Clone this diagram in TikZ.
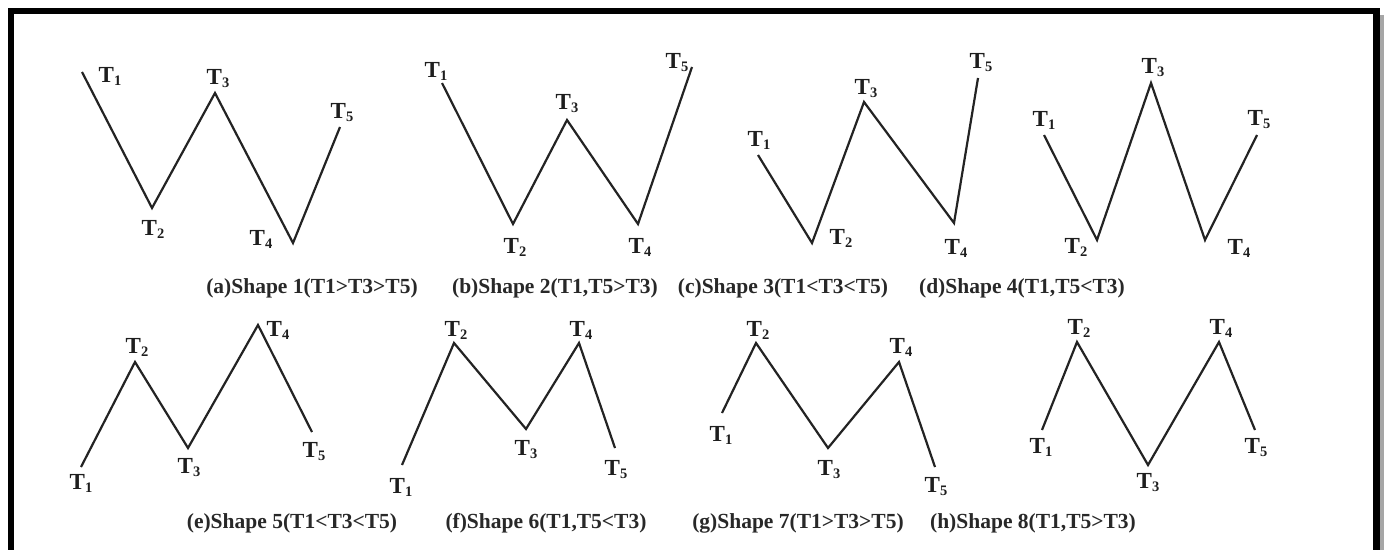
\documentclass[tikz,border=0pt]{standalone}
\usepackage{fontspec}
\setmainfont{Liberation Serif}
\newcommand{\Tsub}[1]{\textbf{T}{\fontsize{14.5}{14.5}\selectfont\raisebox{-0.45ex}{\textbf{#1}}}}
\tikzset{
  wline/.style={line width=2.2pt, draw={rgb,255:red,35;green,35;blue,35}, line join=miter},
  tlab/.style={inner sep=0pt, font=\fontsize{23}{23}\selectfont, text={rgb,255:red,30;green,30;blue,30}},
  capt/.style={inner sep=0pt, font=\fontsize{21.5}{23}\selectfont\bfseries, text={rgb,255:red,40;green,40;blue,40}},
}
\begin{document}
\begin{tikzpicture}[x=1pt,y=-1pt]
\useasboundingbox (0,0) rectangle (1386,549);
\clip (0,0) rectangle (1386,549);
\fill[white] (0,0) rectangle (1386,549);
% frame with shadow
\draw[line width=4pt, black!35] (1382,15) -- (1382,560);
\draw[line width=6.5pt, black] (11,600) -- (11,11) -- (1376.5,11) -- (1376.5,600);

% (a)
\coordinate (a1) at (82,72);
\coordinate (a2) at (152,208);
\coordinate (a3) at (215,93);
\coordinate (a4) at (293,243);
\coordinate (a5) at (340,127);
\draw[wline] (a1) -- (a2) -- (a3) -- (a4) -- (a5);
\node[tlab] (la1) at (110,76) {\Tsub{1}};
\node[tlab] (la2) at (153,229) {\Tsub{2}};
\node[tlab] (la3) at (218,79) {\Tsub{3}};
\node[tlab] (la4) at (261,239) {\Tsub{4}};
\node[tlab] (la5) at (342,113) {\Tsub{5}};
\node[capt] (capa) at (312,288) {(a)Shape 1(T1>T3>T5)};

% (b)
\coordinate (b1) at (442,83);
\coordinate (b2) at (513,224);
\coordinate (b3) at (567,120);
\coordinate (b4) at (638,224);
\coordinate (b5) at (692,67);
\draw[wline] (b1) -- (b2) -- (b3) -- (b4) -- (b5);
\node[tlab] (lb1) at (436,71) {\Tsub{1}};
\node[tlab] (lb2) at (515,247) {\Tsub{2}};
\node[tlab] (lb3) at (567,104) {\Tsub{3}};
\node[tlab] (lb4) at (640,247) {\Tsub{4}};
\node[tlab] (lb5) at (677,63) {\Tsub{5}};
\node[capt] (capb) at (555,288) {(b)Shape 2(T1,T5>T3)};

% (c)
\coordinate (c1) at (758,155);
\coordinate (c2) at (812,243);
\coordinate (c3) at (864,102);
\coordinate (c4) at (954,223);
\coordinate (c5) at (978,78);
\draw[wline] (c1) -- (c2) -- (c3) -- (c4) -- (c5);
\node[tlab] (lc1) at (759,140) {\Tsub{1}};
\node[tlab] (lc2) at (841,238) {\Tsub{2}};
\node[tlab] (lc3) at (866,89) {\Tsub{3}};
\node[tlab] (lc4) at (956,248) {\Tsub{4}};
\node[tlab] (lc5) at (981,63) {\Tsub{5}};
\node[capt] (capc) at (783,288) {(c)Shape 3(T1<T3<T5)};

% (d)
\coordinate (d1) at (1044,135);
\coordinate (d2) at (1097,240);
\coordinate (d3) at (1151,83);
\coordinate (d4) at (1205,240);
\coordinate (d5) at (1257,135);
\draw[wline] (d1) -- (d2) -- (d3) -- (d4) -- (d5);
\node[tlab] (ld1) at (1044,120) {\Tsub{1}};
\node[tlab] (ld2) at (1076,247) {\Tsub{2}};
\node[tlab] (ld3) at (1153,68) {\Tsub{3}};
\node[tlab] (ld4) at (1239,248) {\Tsub{4}};
\node[tlab] (ld5) at (1259,120) {\Tsub{5}};
\node[capt] (capd) at (1022,288) {(d)Shape 4(T1,T5<T3)};

% (e)
\coordinate (e1) at (81,467);
\coordinate (e2) at (135,362);
\coordinate (e3) at (188,448);
\coordinate (e4) at (258,325);
\coordinate (e5) at (312,432);
\draw[wline] (e1) -- (e2) -- (e3) -- (e4) -- (e5);
\node[tlab] (le1) at (81,483) {\Tsub{1}};
\node[tlab] (le2) at (137,347) {\Tsub{2}};
\node[tlab] (le3) at (189,468) {\Tsub{3}};
\node[tlab] (le4) at (278,330) {\Tsub{4}};
\node[tlab] (le5) at (314,452) {\Tsub{5}};
\node[capt] (cape) at (292,523) {(e)Shape 5(T1<T3<T5)};

% (f)
\coordinate (f1) at (402,465);
\coordinate (f2) at (454,343);
\coordinate (f3) at (526,429);
\coordinate (f4) at (579,343);
\coordinate (f5) at (615,448);
\draw[wline] (f1) -- (f2) -- (f3) -- (f4) -- (f5);
\node[tlab] (lf1) at (401,487) {\Tsub{1}};
\node[tlab] (lf2) at (456,330) {\Tsub{2}};
\node[tlab] (lf3) at (526,450) {\Tsub{3}};
\node[tlab] (lf4) at (581,330) {\Tsub{4}};
\node[tlab] (lf5) at (616,470) {\Tsub{5}};
\node[capt] (capf) at (546,523) {(f)Shape 6(T1,T5<T3)};

% (g)
\coordinate (g1) at (722,413);
\coordinate (g2) at (756,343);
\coordinate (g3) at (828,448);
\coordinate (g4) at (899,362);
\coordinate (g5) at (935,467);
\draw[wline] (g1) -- (g2) -- (g3) -- (g4) -- (g5);
\node[tlab] (lg1) at (721,435) {\Tsub{1}};
\node[tlab] (lg2) at (758,330) {\Tsub{2}};
\node[tlab] (lg3) at (829,470) {\Tsub{3}};
\node[tlab] (lg4) at (901,347) {\Tsub{4}};
\node[tlab] (lg5) at (936,487) {\Tsub{5}};
\node[capt] (capg) at (798,523) {(g)Shape 7(T1>T3>T5)};

% (h)
\coordinate (h1) at (1042,430);
\coordinate (h2) at (1077,342);
\coordinate (h3) at (1148,465);
\coordinate (h4) at (1219,342);
\coordinate (h5) at (1255,430);
\draw[wline] (h1) -- (h2) -- (h3) -- (h4) -- (h5);
\node[tlab] (lh1) at (1041,447) {\Tsub{1}};
\node[tlab] (lh2) at (1079,328) {\Tsub{2}};
\node[tlab] (lh3) at (1148,483) {\Tsub{3}};
\node[tlab] (lh4) at (1221,328) {\Tsub{4}};
\node[tlab] (lh5) at (1256,448) {\Tsub{5}};
\node[capt] (caph) at (1033,523) {(h)Shape 8(T1,T5>T3)};
\end{tikzpicture}
\end{document}
